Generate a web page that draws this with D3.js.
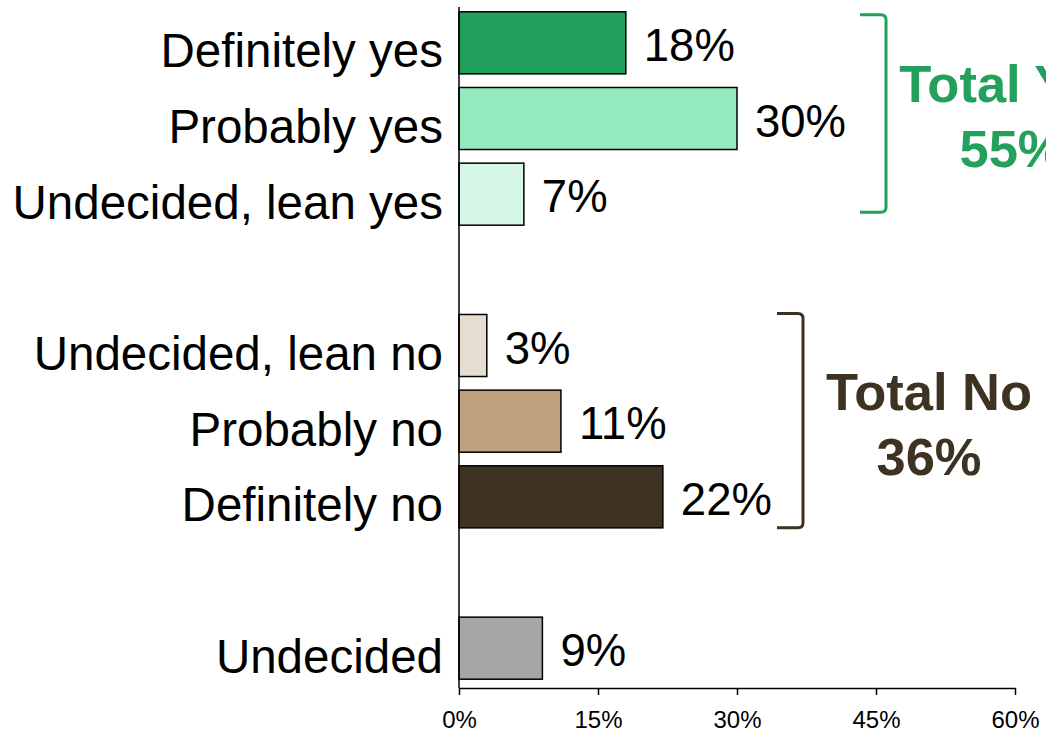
<!DOCTYPE html>
<html><head><meta charset="utf-8">
<script src="https://cdn.jsdelivr.net/npm/d3@7"></script>
<style>
body{margin:0;background:#fff;}
svg{display:block;font-family:"Liberation Sans",Arial,sans-serif;}
</style></head>
<body><svg id="c" width="1046" height="736"></svg>
<script>
const categories = ["Definitely yes","Probably yes","Undecided, lean yes","_gap1","Undecided, lean no","Probably no","Definitely no","_gap2","Undecided"];
const values = [18,30,7,null,3,11,22,null,9];
const colors = ["#21a05b","#94e9bd","#d5f5e5",null,"#e7dcd0","#bda07e","#3e3222",null,"#a6a6a6"];
const ticks = [0,15,30,45,60];
const groupLabels = [["Total Yes","55%"],["Total No","36%"]];
const groupColors = ["#22a05c","#3e3222"];
const groupRanges = [["Definitely yes","Undecided, lean yes"],["Undecided, lean no","Definitely no"]];

const svg = d3.select("#c");
const x = d3.scaleLinear().domain([0,60]).range([459,1015]);
const y = d3.scaleBand().domain(categories).range([5,686]).paddingInner(0.18).paddingOuter(0.09);
const axisY = 688;

const data = categories.map((c,i)=>({c, v:values[i], col:colors[i]})).filter(d=>d.v!==null);

// bars
svg.append("g").selectAll("rect").data(data).join("rect")
  .attr("x", x(0)).attr("y", d=>y(d.c))
  .attr("width", d=>x(d.v)-x(0)).attr("height", y.bandwidth())
  .attr("fill", d=>d.col).attr("stroke","#000").attr("stroke-width",1.5);

// value labels
svg.append("g").selectAll("text").data(data).join("text")
  .attr("x", d=>x(d.v)+18).attr("y", d=>y(d.c)+y.bandwidth()/2+18)
  .attr("font-size",45.5).attr("fill","#000")
  .text(d=>d.v+"%");

// category labels
svg.append("g").selectAll("text").data(data).join("text")
  .attr("x", 443).attr("y", d=>y(d.c)+y.bandwidth()/2+24.5)
  .attr("text-anchor","end").attr("font-size",47.5).attr("fill","#000")
  .text(d=>d.c);

// vertical axis line
svg.append("line").attr("x1",x(0)).attr("x2",x(0)).attr("y1",7).attr("y2",axisY)
  .attr("stroke","#000").attr("stroke-width",1.5);

// bottom axis
const xAxis = d3.axisBottom(x).tickValues(ticks).tickFormat(d=>d+"%").tickSize(7).tickSizeOuter(0);
const gx = svg.append("g").attr("transform",`translate(0,${axisY})`).call(xAxis);
gx.select(".domain").attr("stroke","#000").attr("stroke-width",1.5);
gx.selectAll(".tick line").attr("stroke","#000").attr("stroke-width",1.5);
gx.selectAll(".tick text").attr("font-size",24).attr("font-family","'Liberation Sans',Arial,sans-serif")
  .attr("fill","#000").attr("y",40).attr("dy",null);

// brackets
const bracketX = [886, 803];
const bracketInset = [[3,13],[-1,0]];
const bracketLen = 26;
groupRanges.forEach((r,i)=>{
  const y0 = y(r[0])+bracketInset[i][0], y1 = y(r[1])+y.bandwidth()-bracketInset[i][1];
  const bx = bracketX[i], rr = 5;
  const p = `M${bx-bracketLen},${y0} L${bx-rr},${y0} Q${bx},${y0} ${bx},${y0+rr} L${bx},${y1-rr} Q${bx},${y1} ${bx-rr},${y1} L${bx-bracketLen},${y1}`;
  svg.append("path").attr("d",p).attr("fill","none").attr("stroke",groupColors[i]).attr("stroke-width",3);
});

// group totals
const labelX = [1012, 929];
const labelY = [102, 410];
groupLabels.forEach((lab,i)=>{
  lab.forEach((t,j)=>{
    svg.append("text").attr("x",labelX[i]).attr("y",labelY[i]+j*65)
      .attr("text-anchor","middle").attr("font-size",52.5).attr("font-weight","bold")
      .attr("fill",groupColors[i]).text(t);
  });
});
</script></body></html>
